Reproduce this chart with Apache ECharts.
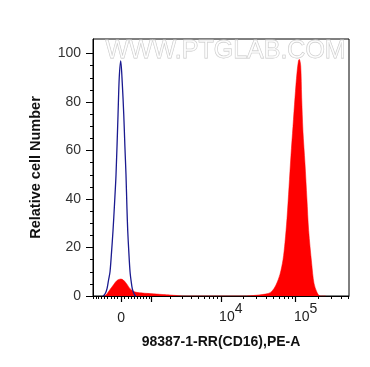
<!DOCTYPE html>
<html><head><meta charset="utf-8">
<script src="https://cdn.jsdelivr.net/npm/echarts@6/dist/echarts.min.js"></script>
<style>html,body{margin:0;padding:0;background:#fff}#c{width:370px;height:367px}</style>
</head><body><div id="c"></div>
<script>
// x positions are in display units (decades of the biexponential PE-A scale)
const blueX = [2.430, 2.444, 2.464, 2.484, 2.504, 2.524, 2.544, 2.564, 2.584, 2.604, 2.631, 2.647, 2.667, 2.687, 2.707, 2.722, 2.737, 2.750, 2.760, 2.775, 2.791, 2.806, 2.821, 2.840, 2.857, 2.870];
const blueY = [0, 0.3, 1.2, 3, 6.5, 10, 18, 27, 38, 50, 75, 90, 97, 88, 75, 62, 50, 36, 27, 18, 10, 6, 3, 1.2, 0.2, 0];

const redX = [2.440, 2.471, 2.500, 2.524, 2.568, 2.613, 2.667, 2.701, 2.747, 2.791, 2.835, 2.880, 2.964, 3.057, 3.147, 3.231, 3.324, 3.413, 3.500,
  4.300, 4.391, 4.471, 4.551, 4.631, 4.684, 4.737, 4.791, 4.831, 4.857, 4.884, 4.911, 4.937, 4.964, 4.991, 5.017, 5.037, 5.048, 5.067, 5.080, 5.097, 5.124, 5.150, 5.173, 5.213, 5.244, 5.284, 5.324, 5.400];
const redY = [0, 0.5, 1.6, 2.7, 4.5, 6.3, 7, 6.6, 5, 3, 2, 1.5, 1.2, 1, 0.8, 0.6, 0.4, 0.2, 0,
  0, 0.1, 0.3, 0.6, 1, 2, 4.5, 9, 15, 22, 32, 45, 58, 70, 82, 92, 97, 97.6, 95, 82, 68, 54.7, 40, 27, 13.5, 5.3, 1.5, 0, 0];

// axis ticks (raw fluorescence values)
const xLabelValues = [0, 10000, 100000];
const xLabelTexts = ['0', '4', '5'];
const xMajorTickValues = [-1000, 0, 1000, 10000, 100000];
const xMinorTickValues = [-900, -800, -700, -600, -500, -400, -300, -200, -100, 100, 200, 300, 400, 500, 600, 700, 800, 900,
  2000, 3000, 4000, 5000, 6000, 7000, 8000, 9000, 20000, 30000, 40000, 50000, 60000, 70000, 80000, 90000, 200000, 300000, 400000, 500000];
const yMajorTicks = [0, 20, 40, 60, 80, 100];
const yMinorTicks = [5, 10, 15, 25, 30, 35, 45, 50, 55, 65, 70, 75, 85, 90, 95];
const xMinD = 2.297, xMaxD = 5.711;

// biexponential-like display transform
const C = 469;
function T(v) { return Math.log10(C) + Math.asinh(v / (2 * C)) / Math.LN10; }

const xLabelD = xLabelValues.map(T);
const font = 'Arial, "Liberation Sans", sans-serif';

const chart = echarts.init(document.getElementById('c'), null, {renderer: 'canvas'});
chart.setOption({
  animation: false,
  grid: {left: 93, right: 21, top: 39, bottom: 71, show: true, borderColor: '#000', borderWidth: 1, backgroundColor: 'transparent'},
  xAxis: [{
    type: 'value', min: xMinD, max: xMaxD,
    name: '98387-1-RR(CD16),PE-A', nameLocation: 'middle', nameGap: 39,
    nameTextStyle: {fontFamily: font, fontWeight: 'bold', fontSize: 14, color: '#111'},
    axisLine: {lineStyle: {color: '#000', width: 1}},
    splitLine: {show: false},
    axisTick: {customValues: xMajorTickValues.map(T).filter(d => d >= xMinD && d <= xMaxD), length: 6, lineStyle: {color: '#000', width: 1.2}},
    axisLabel: {
      customValues: xLabelD, margin: 6, fontFamily: font, color: '#222',
      formatter: function (val) {
        let best = 0;
        for (let i = 1; i < xLabelD.length; i++) if (Math.abs(xLabelD[i] - val) < Math.abs(xLabelD[best] - val)) best = i;
        return best === 0 ? '{z|0}' : '{b|10}{s|' + xLabelTexts[best] + '}';
      },
      rich: {
        z: {fontFamily: font, fontSize: 14, color: '#222', padding: [9, 0, 0, 0]},
        b: {fontFamily: font, fontSize: 14, color: '#222', padding: [0, 0, 0, 20]},
        s: {fontFamily: font, fontSize: 14, color: '#222', padding: [0, 0, 17, 0]}
      }
    }
  }, {
    type: 'value', min: xMinD, max: xMaxD, position: 'bottom', gridIndex: 0,
    axisLine: {show: false}, splitLine: {show: false}, axisLabel: {show: false},
    axisTick: {customValues: xMinorTickValues.map(T).filter(d => d >= xMinD && d <= xMaxD), length: 3, lineStyle: {color: '#000', width: 1}}
  }],
  yAxis: [{
    type: 'value', min: 0, max: 106,
    name: 'Relative cell Number', nameLocation: 'middle', nameGap: 50,
    nameTextStyle: {fontFamily: font, fontWeight: 'bold', fontSize: 14.5, color: '#111'},
    axisLine: {show: true, lineStyle: {color: '#000', width: 1}},
    splitLine: {show: false},
    axisTick: {customValues: yMajorTicks, length: 7, lineStyle: {color: '#000'}},
    axisLabel: {customValues: yMajorTicks, margin: 12, fontFamily: font, fontSize: 14, color: '#333'}
  }, {
    type: 'value', min: 0, max: 106, position: 'left', offset: 0,
    axisLine: {show: false}, splitLine: {show: false}, axisLabel: {show: false},
    axisTick: {customValues: yMinorTicks, length: 3, lineStyle: {color: '#000'}}
  }],
  graphic: [{
    type: 'text', left: 105, top: 38, silent: true, z: 50,
    style: {text: 'WWW.PTGLAB.COM', font: '25px ' + font, fill: 'rgba(255,255,255,0.6)', stroke: '#c4c4c4', lineWidth: 0.8}
  }],
  series: [{
    type: 'line', name: 'sample', xAxisIndex: 0, yAxisIndex: 0,
    data: redX.map((x, i) => [x, redY[i]]),
    symbol: 'none', smooth: 0.3, sampling: 'none',
    lineStyle: {width: 0.5, color: '#ff0000'},
    areaStyle: {color: '#ff0000', opacity: 1},
    z: 2
  }, {
    type: 'line', name: 'control', xAxisIndex: 0, yAxisIndex: 0,
    data: blueX.map((x, i) => [x, blueY[i]]),
    symbol: 'none', smooth: 0.3, sampling: 'none',
    lineStyle: {width: 1.3, color: '#1a1a90'},
    z: 3
  }]
});
</script>
</body></html>
